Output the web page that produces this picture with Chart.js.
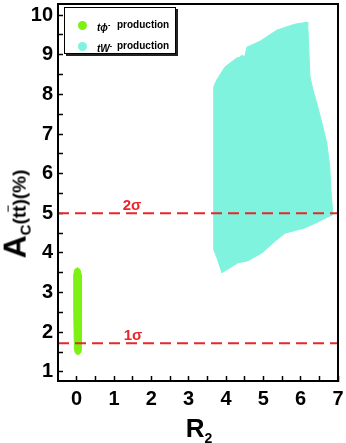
<!DOCTYPE html>
<html>
<head>
<meta charset="utf-8">
<script src="https://cdn.jsdelivr.net/npm/chart.js@4.4.1/dist/chart.umd.min.js"></script>
<style>
  body { margin: 0; background: #fff; }
  #wrap { position: relative; width: 346px; height: 443px; font-family: 'Liberation Sans', Arial, sans-serif; }
  #chart { position: absolute; left: 0; top: 0; }
  .lbl { position: absolute; white-space: nowrap; font-weight: bold; color: #000; }
  #legend { position: absolute; left: 64px; top: 7px; width: 110px; height: 45px; border: 1px solid #000;
            background: #fff; box-shadow: 2px 2px 0 #222; font-size: 10px; font-weight: bold; }
  .item { position: absolute; left: 0; height: 14px; line-height: 14px; }
  .dot { position: absolute; left: 13px; top: 3px; width: 9px; height: 9px; border-radius: 50%; }
  .name { position: absolute; left: 32px; top: 0; font-style: italic; }
  .prod { position: absolute; left: 52px; top: 0; }
  .sig { position: absolute; color: #e8262b; font-weight: bold; font-size: 15px; transform: translate(-50%, -50%); }
</style>
</head>
<body>
<div id="wrap">
  <canvas id="chart" width="346" height="443"></canvas>
  <div id="legend">
    <div class="item" style="top:10px"><span class="dot" style="background:#7ef012"></span><span class="name">t&#981;<sup style="font-size:7px">-</sup></span><span class="prod">production</span></div>
    <div class="item" style="top:31px"><span class="dot" style="background:#7ff3dd"></span><span class="name">tW<sup style="font-size:7px">-</sup></span><span class="prod">production</span></div>
  </div>
  <div class="sig" style="left:132px; top:204px">2&sigma;</div>
  <div class="sig" style="left:133px; top:334px">1&sigma;</div>
  <div class="lbl" style="left:199px; top:415px; font-size:26px; line-height:26px; transform:translateX(-50%)">R<sub style="font-size:14px">2</sub></div>
  <div class="lbl" style="left:20px; top:214px; font-size:19px; line-height:32px; transform:translate(-50%,-50%) rotate(-90deg)"><span style="font-size:32px">A</span><sub style="font-size:15px">C</sub>(t<span style="text-decoration:overline">t</span>)(%)</div>
</div>
<script>
// axis ticks
const xTickVals = [0, 1, 2, 3, 4, 5, 6, 7];
const xMinorVals = [0.5, 1.5, 2.5, 3.5, 4.5, 5.5, 6.5];
const yTickVals = [1, 2, 3, 4, 5, 6, 7, 8, 9, 10];
const yMinorVals = [1.5, 2.5, 3.5, 4.5, 5.5, 6.5, 7.5, 8.5, 9.5];

// sigma levels of A_C
const sigma1 = 1.72;
const sigma2 = 5.0;

// tW- production region (upper / lower edge)
const twUpper = [
  {x: 3.67, y: 4.08}, {x: 3.67, y: 8.19}, {x: 3.75, y: 8.36}, {x: 3.97, y: 8.69},
  {x: 4.29, y: 8.92}, {x: 4.37, y: 8.94}, {x: 4.42, y: 8.99}, {x: 4.50, y: 8.95},
  {x: 4.56, y: 9.19}, {x: 4.91, y: 9.34}, {x: 5.36, y: 9.62}, {x: 5.84, y: 9.77},
  {x: 6.17, y: 9.82}, {x: 6.19, y: 9.75}, {x: 6.25, y: 8.44}, {x: 6.33, y: 8.11},
  {x: 6.43, y: 7.78}, {x: 6.57, y: 7.28}, {x: 6.70, y: 6.77}, {x: 6.78, y: 6.17},
  {x: 6.81, y: 5.59}, {x: 6.86, y: 5.01}, {x: 6.86, y: 4.96}
];
const twLower = [
  {x: 3.67, y: 4.08}, {x: 3.75, y: 3.90}, {x: 3.89, y: 3.50}, {x: 4.32, y: 3.75},
  {x: 4.58, y: 3.80}, {x: 4.96, y: 4.00}, {x: 5.36, y: 4.33}, {x: 5.58, y: 4.50},
  {x: 6.11, y: 4.63}, {x: 6.46, y: 4.78}, {x: 6.73, y: 4.91}, {x: 6.86, y: 4.96}
];

// t-phi production region
const tphiUpper = [
  {x: -0.08, y: 2.5}, {x: -0.08, y: 3.45}, {x: -0.05, y: 3.58}, {x: 0.02, y: 3.63},
  {x: 0.09, y: 3.58}, {x: 0.12, y: 3.45}, {x: 0.13, y: 2.5}
];
const tphiLower = [
  {x: -0.08, y: 2.5}, {x: -0.06, y: 1.56}, {x: -0.03, y: 1.47}, {x: 0.04, y: 1.43},
  {x: 0.11, y: 1.48}, {x: 0.13, y: 1.58}, {x: 0.13, y: 2.5}
];

const xMin = -0.5, xMax = 7;
const cyan = '#7ff3dd';
const green = '#7ef012';
const red = '#e8262b';

const frame = {
  id: 'frame',
  afterDraw(chart) {
    const {ctx, chartArea: a} = chart;
    ctx.save();
    ctx.strokeStyle = '#000';
    ctx.lineWidth = 2;
    ctx.strokeRect(a.left, a.top, a.right - a.left, a.bottom - a.top);
    ctx.restore();
  }
};

function region(data, color, fill) {
  return { data: data, borderColor: color, backgroundColor: color, borderWidth: 1, fill: fill, pointRadius: 0, tension: 0 };
}
function sigmaLine(level) {
  return { data: [{x: xMin, y: level}, {x: xMax, y: level}], borderColor: red, borderWidth: 2,
           borderDash: [11, 6], pointRadius: 0, fill: false };
}

new Chart(document.getElementById('chart'), {
  type: 'line',
  data: {
    datasets: [
      sigmaLine(sigma2),
      sigmaLine(sigma1),
      region(twUpper, cyan, '+1'),
      region(twLower, cyan, false),
      region(tphiUpper, green, '+1'),
      region(tphiLower, green, false)
    ]
  },
  options: {
    responsive: false,
    animation: false,
    events: [],
    layout: { padding: { top: 4, right: 8, left: 0, bottom: 0 } },
    plugins: { legend: { display: false }, tooltip: { enabled: false } },
    scales: {
      x: {
        type: 'linear', min: xMin, max: xMax,
        afterBuildTicks: s => { s.ticks = xTickVals.concat(xMinorVals).sort((a, b) => a - b).map(v => ({value: v})); },
        afterFit: s => { s.height = 62; s.paddingLeft = 0; s.paddingRight = 0; },
        ticks: { color: '#000', font: { family: 'Liberation Sans', size: 20, weight: 'bold' }, padding: 11,
                 maxRotation: 0, autoSkip: false,
                 callback: v => xTickVals.includes(v) ? String(v) : '' },
        grid: { drawOnChartArea: false, tickLength: -5, tickColor: '#000', tickWidth: 1.5 },
        border: { color: '#000', width: 2 }
      },
      y: {
        type: 'linear', min: 0.77, max: 10.28,
        afterBuildTicks: s => { s.ticks = yTickVals.concat(yMinorVals).sort((a, b) => a - b).map(v => ({value: v})); },
        afterFit: s => { s.width = 58; s.paddingTop = 0; s.paddingBottom = 0; },
        ticks: { color: '#000', font: { family: 'Liberation Sans', size: 20, weight: 'bold' }, padding: 10,
                 autoSkip: false,
                 callback: v => yTickVals.includes(v) ? String(v) : '' },
        grid: { drawOnChartArea: false, tickLength: -5, tickColor: '#000', tickWidth: 1.5 },
        border: { color: '#000', width: 2 }
      }
    }
  },
  plugins: [frame]
});
</script>
</body>
</html>
